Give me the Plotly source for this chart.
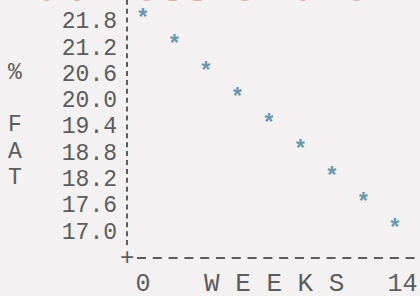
import plotly.graph_objects as go

# data
weeks = [0, 1.75, 3.5, 5.25, 7, 8.75, 10.5, 12.25, 14]
fat_pct = [21.8, 21.2, 20.6, 20.0, 19.4, 18.8, 18.2, 17.6, 17.0]
y_ticks = [21.8, 21.2, 20.6, 20.0, 19.4, 18.8, 18.2, 17.6, 17.0]
x_ticks = [0, 14]
x_ticktext = ["0", "\u00a014"]
y_title_letters = ["%", "F", "A", "T"]
y_title_rows = [20.6, 19.4, 18.8, 18.2]
x_title = "W E E K S"
x_title_pos = 7.3
title_text = "Fat Loss Chart"

BG = "#f4f1f2"
INK = "#5c5c5c"
BLUE = "#6a97ab"
MONO = "Liberation Mono, Courier New, monospace"

fig = go.Figure()
fig.add_trace(go.Scatter(
    x=weeks, y=fat_pct, mode="text", text=["*"] * len(weeks),
    textposition="middle center",
    textfont=dict(family=MONO, size=23, color=BLUE, weight="bold"),
    hoverinfo="skip", showlegend=False,
))

annotations = []
for letter, row in zip(y_title_letters, y_title_rows):
    annotations.append(dict(
        text=letter, xref="paper", x=0, xshift=-112, yref="y", y=row,
        showarrow=False, xanchor="center", yanchor="middle",
        font=dict(family=MONO, size=23, color=INK)))
annotations.append(dict(
    text=x_title, xref="x", x=x_title_pos, yref="paper", y=0, yshift=-26,
    showarrow=False, xanchor="center", yanchor="middle",
    font=dict(family=MONO, size=26, color=INK)))
annotations.append(dict(
    text="+", xref="paper", x=0, yref="paper", y=0,
    showarrow=False, xanchor="center", yanchor="middle",
    font=dict(family=MONO, size=24, color=INK)))
annotations.append(dict(
    text="<b>" + title_text + "</b>", xref="paper", x=0, xshift=-121, yref="paper", y=1, yshift=-12.5,
    showarrow=False, xanchor="left", yanchor="bottom",
    font=dict(family="DejaVu Serif", size=44, color="#e06a6e")))

shapes = [
    dict(type="line", xref="paper", yref="paper", x0=0, x1=0, y0=0.05, y1=1.0,
         line=dict(color=INK, width=2, dash="5px,3.9px")),
    dict(type="line", xref="paper", yref="paper", x0=0.034, x1=1.0, y0=0, y1=0,
         line=dict(color=INK, width=2, dash="9px,6.8px")),
]

fig.update_layout(
    width=420, height=296,
    margin=dict(l=127, r=0, t=0, b=38, autoexpand=False),
    paper_bgcolor=BG, plot_bgcolor=BG,
    showlegend=False,
    annotations=annotations, shapes=shapes,
    xaxis=dict(range=[-0.889, 15.389], showgrid=False, zeroline=False, showline=False,
               automargin=False,
               ticks="", tickvals=x_ticks, ticktext=x_ticktext, ticklabelstandoff=7,
               tickfont=dict(family=MONO, size=25, color=INK), fixedrange=True),
    yaxis=dict(range=[16.372, 22.263], showgrid=False, zeroline=False, showline=False,
               automargin=False,
               ticks="", tickvals=y_ticks, ticktext=[f"{v:.1f}" for v in y_ticks],
               ticklabelstandoff=9,
               tickfont=dict(family=MONO, size=23, color=INK), fixedrange=True),
)

fig.write_html("out.html", config={"displayModeBar": False, "staticPlot": True},
               post_script="document.body.style.margin='0';document.body.style.background='#f4f1f2';")
